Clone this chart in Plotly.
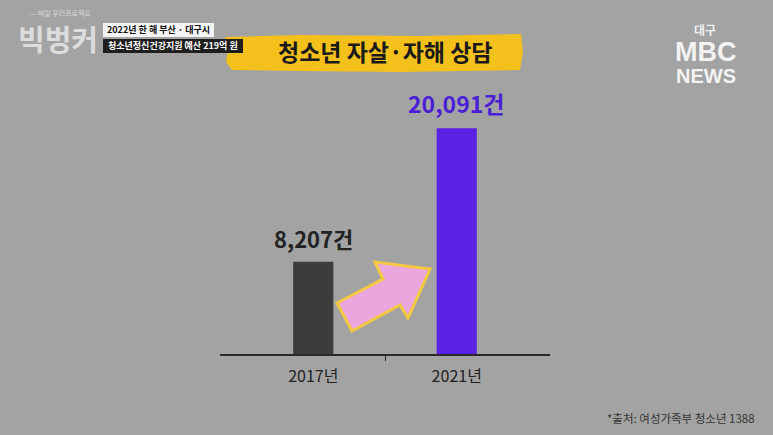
import plotly.graph_objects as go

# ---- data ----
categories = ["2017년", "2021년"]
values = [8207, 20091]
value_labels = ["8,207건", "20,091건"]
bar_colors = ["#3c3c3c", "#5a22e2"]
label_colors = ["#222222", "#4a1fd6"]
label_sizes = [22, 23]
title_text = "청소년 자살·자해 상담"
source_text = "*출처: 여성가족부 청소년 1388"

W, H = 773, 435
L, R, T, B = 220, 223, 90, 81
PW, PH = W - L - R, H - T - B

def px(x):
    return (x - L) / PW

def py(y):
    return (H - B - y) / PH

def path(pts):
    s = "M " + " L ".join(f"{px(a):.4f},{py(b):.4f}" for a, b in pts)
    return s + " Z"

xs = list(range(len(categories)))

fig = go.Figure()
fig.add_trace(go.Bar(
    x=xs, y=values, width=0.28,
    marker=dict(color=bar_colors, line=dict(width=0)),
    hoverinfo="skip",
))

for i, (v, t) in enumerate(zip(values, value_labels)):
    fig.add_annotation(
        x=xs[i], y=v, text=f"<b>{t}</b>", showarrow=False,
        yanchor="bottom", yshift=6, xref="x", yref="y",
        font=dict(family="Noto Sans CJK KR", size=label_sizes[i], color=label_colors[i]),
    )

shapes = []
# title banner (yellow brush)
shapes.append(dict(
    type="path", xref="paper", yref="paper", layer="below",
    path=path([(225, 37), (300, 35), (420, 36), (521, 34), (523, 52), (520, 70),
               (400, 72), (300, 71), (232, 70), (226, 62), (228, 50)]),
    fillcolor="#f4c01c", line=dict(width=0),
))
# white info box
shapes.append(dict(type="rect", xref="paper", yref="paper",
                   x0=px(103), x1=px(214), y0=py(37), y1=py(23),
                   fillcolor="#f4f4f4", line=dict(width=0)))
# black info box
shapes.append(dict(type="rect", xref="paper", yref="paper",
                   x0=px(103), x1=px(243), y0=py(53), y1=py(39),
                   fillcolor="#1e1e1e", line=dict(width=0)))
# arrow
shapes.append(dict(
    type="path", xref="paper", yref="paper",
    path=path([(337, 303), (383, 279), (375, 262), (430, 269), (408, 318), (400, 305), (352, 331)]),
    fillcolor="#e9a7dd", line=dict(color="#f5c842", width=3),
))

fig.update_layout(shapes=shapes)

ann = [
    dict(x=px(385), y=py(51), text=f"<b>{title_text}</b>",
         font=dict(family="Noto Sans CJK KR", size=23, color="#1a1a1a")),
    dict(x=px(158), y=py(30), text="<b>2022년 한 해 부산 · 대구시</b>",
         font=dict(family="Noto Sans CJK KR", size=9, color="#111111")),
    dict(x=px(173), y=py(46), text="<b>청소년정신건강지원 예산 219억 원</b>",
         font=dict(family="Noto Sans CJK KR", size=9, color="#ffffff")),
    dict(x=px(58), y=py(38), text="<b>빅벙커</b>",
         font=dict(family="Noto Sans CJK KR", size=29, color="rgba(240,240,240,0.75)")),
    dict(x=px(60), y=py(13), text="— 매일 우리프로젝트",
         font=dict(family="Noto Sans CJK KR", size=7, color="rgba(240,240,240,0.7)")),
    dict(x=px(705), y=py(29), text="<b>대구</b>",
         font=dict(family="Noto Sans CJK KR", size=12, color="rgba(255,255,255,0.85)")),
    dict(x=px(706), y=py(52), text="<b>MBC</b>",
         font=dict(family="Liberation Sans", size=27, color="rgba(255,255,255,0.88)")),
    dict(x=px(706), y=py(76), text="<b>NEWS</b>",
         font=dict(family="Liberation Sans", size=20, color="rgba(255,255,255,0.88)")),
    dict(x=px(681), y=py(418), text=source_text,
         font=dict(family="Noto Sans CJK KR", size=11.5, color="#333333")),
]
for a in ann:
    fig.add_annotation(xref="paper", yref="paper", showarrow=False,
                       xanchor="center", yanchor="middle", borderpad=0, **a)

fig.update_layout(
    width=W, height=H,
    margin=dict(l=L, r=R, t=T, b=B, pad=0),
    paper_bgcolor="#a3a3a3", plot_bgcolor="rgba(0,0,0,0)",
    showlegend=False,
    font=dict(family="Noto Sans CJK KR"),
    xaxis=dict(
        range=[-0.65, 1.65], tickvals=xs, ticktext=categories,
        showgrid=False, zeroline=False, showline=True,
        linecolor="#2a2a2a", linewidth=2, ticks="",
        tickfont=dict(size=16, color="#222222"),
        ticklabelstandoff=7,
        minor=dict(tickvals=[0.5], ticks="outside", ticklen=5, tickwidth=1, tickcolor="#2a2a2a"),
        fixedrange=True,
    ),
    yaxis=dict(range=[0, 23500], visible=False, fixedrange=True),
)

fig.write_html("out.html", config={"displayModeBar": False},
               post_script="document.body.style.margin='0';document.body.style.background='#a3a3a3';")
